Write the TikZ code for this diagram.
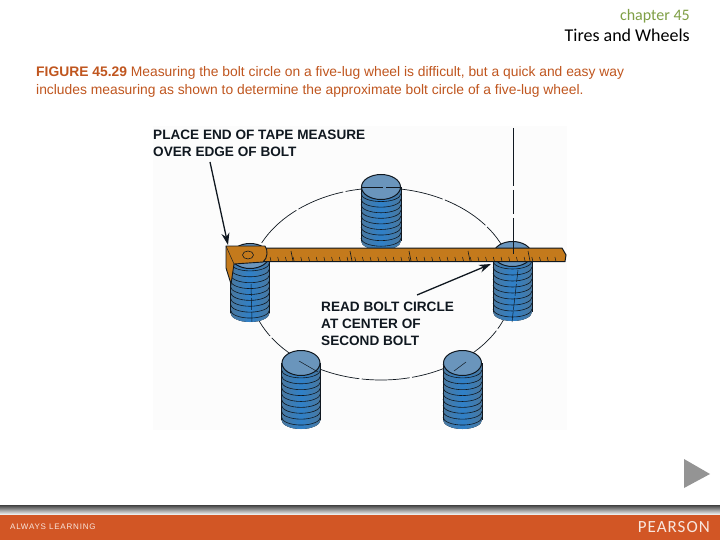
\documentclass[tikz,border=0pt]{standalone}
\usepackage{fontspec}
\setmainfont{Liberation Sans}
\newfontfamily\headfont{Carlito}
\usetikzlibrary{arrows.meta,shadings}
\definecolor{capcol}{HTML}{C0561F}
\definecolor{barcol}{HTML}{D25625}
\definecolor{greenh}{HTML}{7F9F45}
\definecolor{boltblue}{HTML}{2F80C8}
\definecolor{boltedge}{HTML}{4A789F}
\definecolor{boltcap}{HTML}{6A95BC}
\definecolor{tapecol}{HTML}{C47A1C}
\definecolor{linecol}{HTML}{101820}
\newcommand{\boltshape}[4]{% cx, cap y, bottom y, halfwidth
  \fill[left color=boltedge,right color=boltedge,middle color=boltblue] (#1-#4,#2) -- (#1-#4,#3-9) arc[start angle=180,end angle=0,x radius=#4,y radius=9] -- (#1+#4,#2) -- cycle;
  \draw[linecol,line width=.9pt] (#1-#4,#2) -- (#1-#4,#3-9) (#1+#4,#2) -- (#1+#4,#3-9);
  \foreach \t in {0,...,9}{
    \pgfmathsetmacro{\yy}{#2+1+\t*(#3-#2-10)/9.5}
    \draw[linecol,line width=.6pt] (#1-#4,\yy) arc[start angle=180,end angle=0,x radius=#4,y radius=8];
  }
  \fill[boltcap,draw=linecol,line width=1pt] (#1,#2) ellipse[x radius=#4-.5,y radius=12.5];
}
\tikzset{
  callout/.style={font=\fontsize{13.6}{17}\selectfont\bfseries,text=linecol,align=left,inner sep=0pt,anchor=north west},
  leader/.style={linecol,line width=1.3pt,-{Stealth[length=12pt,width=8pt]}},
  dashc/.style={linecol,line width=.7pt,dash pattern=on 48pt off 2.5pt},
  caption/.style={font=\fontsize{13.85}{18}\selectfont,text=capcol,align=left,inner sep=0pt,anchor=north west},
}
\begin{document}
\begin{tikzpicture}[x=1pt,y=-1pt]
\useasboundingbox (0,0) rectangle (720,540);
\fill[white] (0,0) rectangle (720,540);
\fill[black!1] (153,126) rectangle (567,430);
% header
\node[anchor=east,inner sep=0pt,font=\headfont\fontsize{16}{18}\selectfont,text=greenh] (chap) at (690,16) {chapter 45};
\node[anchor=east,inner sep=0pt,font=\headfont\fontsize{18}{20}\selectfont] (title) at (690,35) {Tires and Wheels};
\node[caption] (cap) at (36,66) {{\bfseries FIGURE 45.29} Measuring the bolt circle on a five-lug wheel is difficult, but a quick and easy way\\includes measuring as shown to determine the approximate bolt circle of a five-lug wheel.};
% bolt circle
\draw[dashc] (381,284) ellipse[x radius=132,y radius=96];
% bolts
\boltshape{381}{187}{250}{20}
\boltshape{301}{363}{429}{19.5}
\boltshape{462.5}{363}{429}{19.5}
\boltshape{250}{256}{322}{19.5}
\boltshape{512.5}{254}{321}{19.5}
% circle over the bolts
\draw[linecol,line width=.5pt,dash pattern=on 22pt off 3pt] (361,187) -- (401,187);
\draw[linecol,line width=.5pt] (299,361) -- (318,372) (454,371) -- (466,362);
\draw[linecol,line width=.5pt,dash pattern=on 12pt off 2pt] (251,284) -- (252,322);
\draw[linecol,line width=.5pt,dash pattern=on 12pt off 2pt] (518,270) -- (512,322);
% tape
\fill[tapecol,draw=linecol,line width=1pt] (262,248) -- (562,248) -- (566,255) -- (565,261.5) -- (262,261.5) -- cycle;
\fill[tapecol,draw=linecol,line width=.9pt] (226,246) -- (265,246) .. controls (268,250) and (268,258) .. (263,262) -- (234,264) -- (231,284) -- (226,268) -- cycle;
\draw[linecol,line width=.5pt] (226,246) -- (234,264);
\draw[linecol,line width=.6pt] (248,255) ellipse[x radius=5.5,y radius=4];
\foreach \i in {0,...,37}{
  \draw[linecol,line width=.5pt] ({271+\i*7.7},261) -- ({270+\i*7.7},257);
}
\foreach \x in {293,352,411,470,530}{
  \draw[linecol,line width=.6pt] (\x,261) -- (\x-2,251);
}
% datum line
\coordinate (lineTop) at (513.5,128);
\coordinate (lineBot) at (513.5,254);
\draw[linecol,line width=1.3pt,dash pattern=on 58pt off 4pt on 24pt off 4pt on 50pt off 0pt] (lineTop) -- (lineBot);
% callouts
\node[callout] (place) at (153,129.5) {PLACE END OF TAPE MEASURE\\OVER EDGE OF BOLT};
\node[callout] (read) at (321,301.5) {READ BOLT CIRCLE\\AT CENTER OF\\SECOND BOLT};
\coordinate (tipA) at (228,245);
\coordinate (tipB) at (491,264);
\coordinate (tailA) at (210,162);
\coordinate (tailB) at (417,295);
\draw[leader] (tailA) -- (tipA);
\draw[leader] (tailB) -- (tipB);
% next button
\fill[black!42] (684,459) -- (710,474) -- (684,488) -- cycle;
% footer
\shade[top color=black!75,bottom color=black!8] (0,505) rectangle (720,514);
\fill[barcol] (0,515) rectangle (720,540);
\node[anchor=west,inner sep=0pt,font=\fontsize{8}{9}\selectfont\addfontfeature{LetterSpace=10},text=white!85!barcol] (always) at (10,526.5) {ALWAYS LEARNING};
\node[anchor=east,inner sep=0pt,font=\headfont\fontsize{17}{18}\selectfont\addfontfeature{LetterSpace=6},text=white!85!barcol] (pearson) at (710,527) {PEARSON};
\end{tikzpicture}
\end{document}
